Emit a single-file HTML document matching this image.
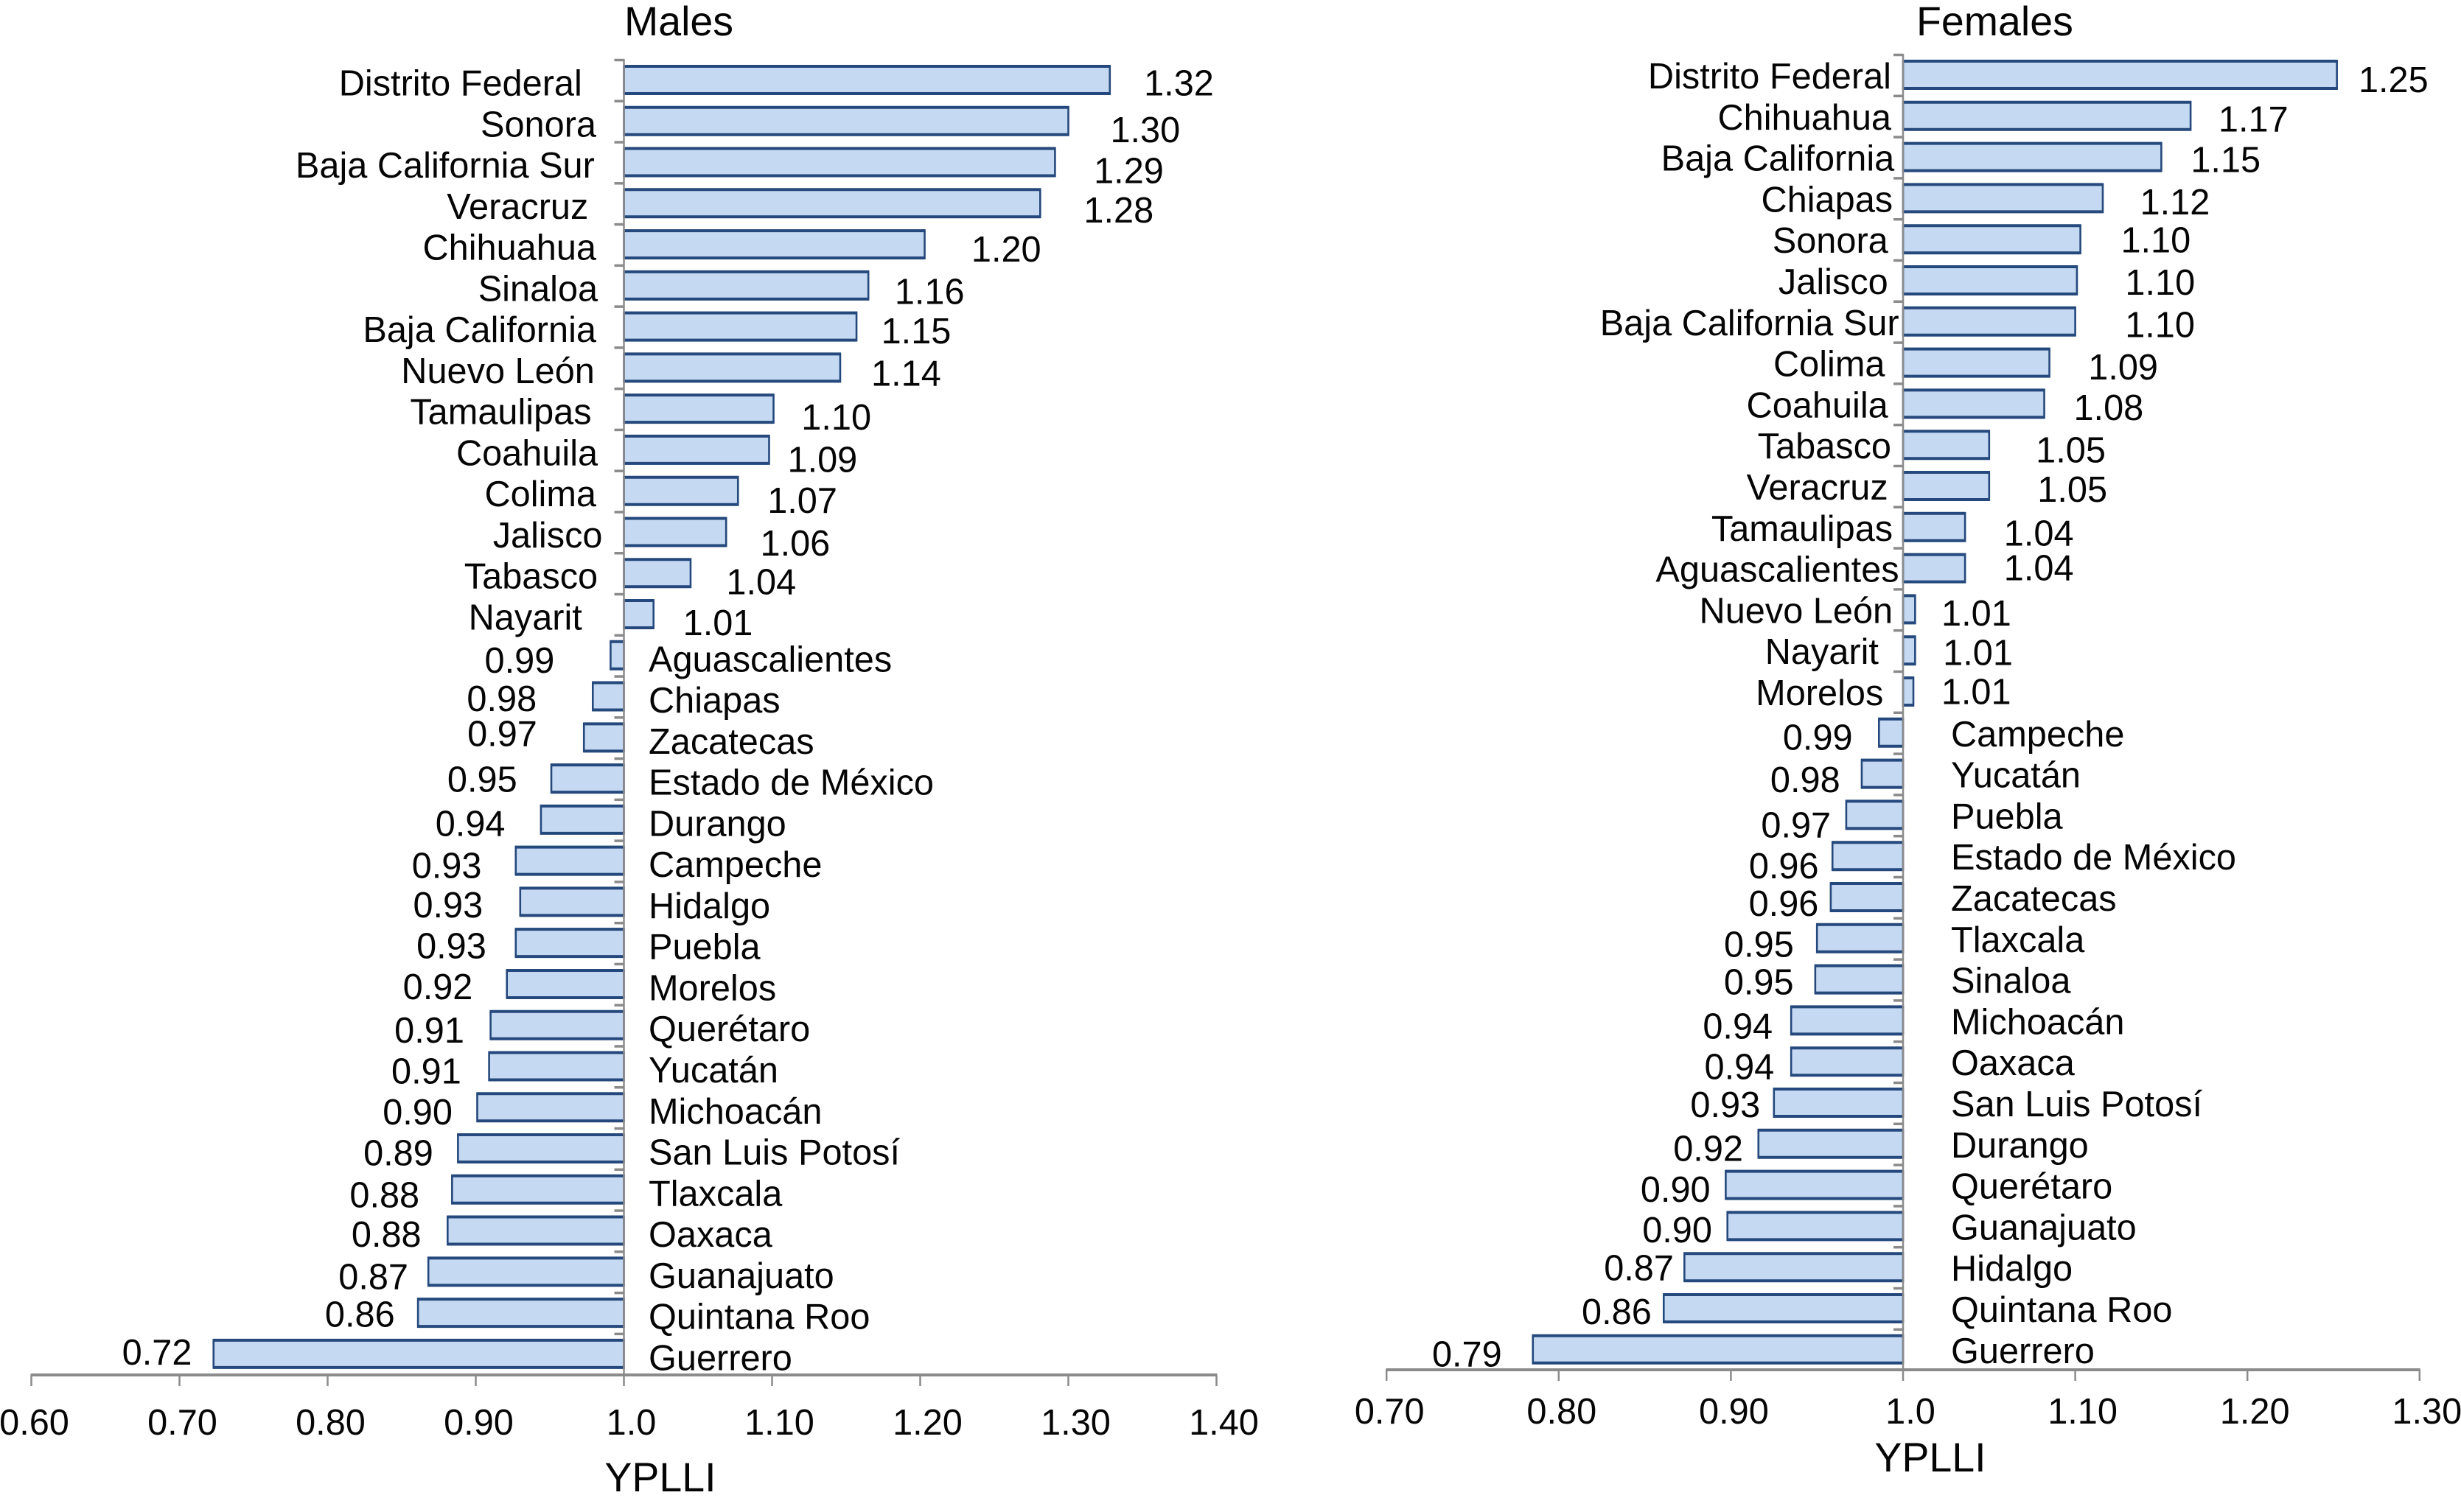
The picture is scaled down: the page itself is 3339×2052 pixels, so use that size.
<!DOCTYPE html>
<html lang="en">
<head>
<meta charset="utf-8">
<title>YPLLI by state, males and females</title>
<style>
html,body{margin:0;padding:0;background:#fff;width:3339px;height:2052px;overflow:hidden}
svg{display:block}
text{font-family:"Liberation Sans",Arial,sans-serif;fill:#050505}
</style>
</head>
<body>
<svg id="chart" xmlns="http://www.w3.org/2000/svg" width="3339" height="2052" viewBox="0 0 3339 2052">
  <g id="male-panel">
    <text x="847" y="48" font-size="55.5">Males</text>
    <text x="896" y="2024" font-size="55.5" text-anchor="middle">YPLLI</text>
  </g>
  <g id="female-panel">
    <text x="2600" y="48" font-size="55.5">Females</text>
    <text x="2619" y="1997" font-size="55.5" text-anchor="middle">YPLLI</text>
  </g>
</svg>
<script>
/* ---------- chart data ---------- */
const maleStates = ['Distrito Federal','Sonora','Baja California Sur','Veracruz','Chihuahua','Sinaloa','Baja California','Nuevo León','Tamaulipas','Coahuila','Colima','Jalisco','Tabasco','Nayarit','Aguascalientes','Chiapas','Zacatecas','Estado de México','Durango','Campeche','Hidalgo','Puebla','Morelos','Querétaro','Yucatán','Michoacán','San Luis Potosí','Tlaxcala','Oaxaca','Guanajuato','Quintana Roo','Guerrero'];
const maleValues = [1.328,1.300,1.291,1.281,1.203,1.165,1.157,1.146,1.101,1.098,1.077,1.069,1.045,1.020,0.991,0.979,0.973,0.951,0.944,0.927,0.930,0.927,0.921,0.910,0.909,0.901,0.888,0.884,0.881,0.868,0.861,0.723];
const malePrinted = ['1.32','1.30','1.29','1.28','1.20','1.16','1.15','1.14','1.10','1.09','1.07','1.06','1.04','1.01','0.99','0.98','0.97','0.95','0.94','0.93','0.93','0.93','0.92','0.91','0.91','0.90','0.89','0.88','0.88','0.87','0.86','0.72'];
const maleTickValues = [0.6,0.7,0.8,0.9,1.0,1.1,1.2,1.3,1.4];
const maleTickLabels = ['0.60','0.70','0.80','0.90','1.0','1.10','1.20','1.30','1.40'];

const femaleStates = ['Distrito Federal','Chihuahua','Baja California','Chiapas','Sonora','Jalisco','Baja California Sur','Colima','Coahuila','Tabasco','Veracruz','Tamaulipas','Aguascalientes','Nuevo León','Nayarit','Morelos','Campeche','Yucatán','Puebla','Estado de México','Zacatecas','Tlaxcala','Sinaloa','Michoacán','Oaxaca','San Luis Potosí','Durango','Querétaro','Guanajuato','Hidalgo','Quintana Roo','Guerrero'];
const femaleValues = [1.252,1.167,1.150,1.116,1.103,1.101,1.100,1.085,1.082,1.050,1.050,1.036,1.036,1.007,1.007,1.006,0.986,0.976,0.967,0.959,0.958,0.950,0.949,0.935,0.935,0.925,0.916,0.897,0.898,0.873,0.861,0.785];
const femalePrinted = ['1.25','1.17','1.15','1.12','1.10','1.10','1.10','1.09','1.08','1.05','1.05','1.04','1.04','1.01','1.01','1.01','0.99','0.98','0.97','0.96','0.96','0.95','0.95','0.94','0.94','0.93','0.92','0.90','0.90','0.87','0.86','0.79'];
const femaleTickValues = [0.7,0.8,0.9,1.0,1.1,1.2,1.3];
const femaleTickLabels = ['0.70','0.80','0.90','1.0','1.10','1.20','1.30'];

/* ---------- layout only: hand-placed label offsets of the original figure ---------- */
const layout = {
  male: {
    panel: 'male-panel', x1: 846.5, perUnit: 2010, firstBarTop: 88, pitch: 55.77, barH: 41,
    axisY: 1866, axisTop: 80, catRight: 809, catLeft: 880, catDyPos: 4, catDyNeg: 5, tickLabelY: 1947,
    catNudge: [-9,0,-1,-5,0,1,0,-1,-3,1,0,4,1,-9],
    gap: [44,49,47,50,52,39,38,42,40,34,41,44,45,41,58,58,52,44,45,44,46,41,44,39,40,38,38,43,39,35,37,36],
    dy: [1.8,5.6,5.4,4.2,3,3.8,2.7,3.5,5.3,6.1,5.9,7,5.5,5.3,3.1,1.5,-2.6,0.5,2.3,3.1,2,1.8,1.6,3.2,3,3,2.8,3.3,2.4,3.2,1,-1.1]
  },
  female: {
    panel: 'female-panel', x1: 2582, perUnit: 2336, firstBarTop: 81, pitch: 55.8, barH: 41,
    axisY: 1859, axisTop: 73, catRight: 2566, catLeft: 2647, catDyPos: 1.5, catDyNeg: 1.5, tickLabelY: 1932,
    catNudge: [0,0,2,1,-2,-2,5,-4,-2,0,-2,1,5,1,-8,-5],
    gap: [36,40,41,46,48,53,54,47,41,52,53,47,47,39,40,40,39,36,32,31,30,37,36,34,33,31,32,32,32,29,30,42],
    dy: [3.1,1.9,1.7,2.5,0.3,1.1,1.9,2.7,2.5,3.3,2.1,3.9,-0.3,2.5,1.3,0.1,2.9,3.7,6.5,6.3,4.1,3.9,1.7,3.5,3.3,1.1,2.9,2.7,2.5,0.3,2.1,2.9]
  }
};
const S = 2.1295, AXIS = '#8b8b8b', FILL = '#c5d9f2', STROKE = '#25497c', FONT = 48.7;
const NS = 'http://www.w3.org/2000/svg';

function mk(tag, parent, attrs) {
  const el = document.createElementNS(NS, tag);
  for (const k in attrs) el.setAttribute(k, attrs[k]);
  parent.appendChild(el);
  return el;
}

function drawPanel(cfg, sex, states, values, printed, tickValues, tickLabels) {
  const g = document.getElementById(cfg.panel);
  const xOf = v => cfg.x1 + (v - 1) * cfg.perUnit;
  const rowTop = i => cfg.firstBarTop + i * cfg.pitch;

  /* category-axis ticks */
  for (let i = 0; i < states.length; i++) {
    const y = rowTop(i) - 6.5;
    const tk = mk('line', g, {x1: cfg.x1 - 13, x2: cfg.x1, y1: y, y2: y, stroke: AXIS, 'stroke-width': 3.5});
    
    
  }

  /* bars, value labels, category labels */
  states.forEach((state, i) => {
    const v = values[i], end = xOf(v), top = rowTop(i), cy = top + cfg.barH / 2;
    const left = Math.min(end, cfg.x1), w = Math.abs(end - cfg.x1);
    const bar = mk('rect', g, {
      x: left, y: top + 1.6, width: w, height: cfg.barH - 3.2,
      fill: FILL, stroke: STROKE, 'stroke-width': 2.6
    });
    
    

    /* the heavier top and bottom rules of each bar outline */
    [top + 2, top + cfg.barH - 2].forEach(ry => {
      const edge = mk('line', g, {x1: left - 1, x2: left + w + 1, y1: ry, y2: ry, stroke: STROKE, 'stroke-width': 4});
      
      
    });

    const dir = v >= 1 ? 1 : -1;
    const val = mk('text', g, {
      x: end + dir * cfg.gap[i] * S,
      y: cy + cfg.dy[i] * S + 17,
      'font-size': FONT, 'text-anchor': 'middle'
    });
    val.textContent = printed[i];
    
    

    const onLeft = v >= 1;
    const cat = mk('text', g, {
      x: onLeft ? cfg.catRight + (cfg.catNudge[i] || 0) * S : cfg.catLeft,
      y: cy + (onLeft ? cfg.catDyPos : cfg.catDyNeg) + 17,
      'font-size': FONT, 'text-anchor': onLeft ? 'end' : 'start'
    });
    cat.textContent = state;
    
    
  });

  /* vertical axis at 1.0 */
  const vAxis = mk('line', g, {x1: cfg.x1, x2: cfg.x1, y1: cfg.axisTop, y2: cfg.axisY, stroke: AXIS, 'stroke-width': 2.5});
  
  

  /* horizontal axis */
  const x0 = xOf(tickValues[0]), xN = xOf(tickValues[tickValues.length - 1]);
  const hAxis = mk('line', g, {x1: x0 - 1, x2: xN + 1, y1: cfg.axisY, y2: cfg.axisY, stroke: AXIS, 'stroke-width': 4});
  
  

  tickValues.forEach((t, i) => {
    const x = xOf(t);
    const tick = mk('line', g, {x1: x, x2: x, y1: cfg.axisY, y2: cfg.axisY + 15, stroke: AXIS, 'stroke-width': 2.5});
    
    
    const lab = mk('text', g, {x: x + (t < 1 ? 4 : 10), y: cfg.tickLabelY, 'font-size': FONT, 'text-anchor': 'middle'});
    lab.textContent = tickLabels[i];
    
    
  });
}

drawPanel(layout.male, 'male', maleStates, maleValues, malePrinted, maleTickValues, maleTickLabels);
drawPanel(layout.female, 'female', femaleStates, femaleValues, femalePrinted, femaleTickValues, femaleTickLabels);
</script>
</body>
</html>
